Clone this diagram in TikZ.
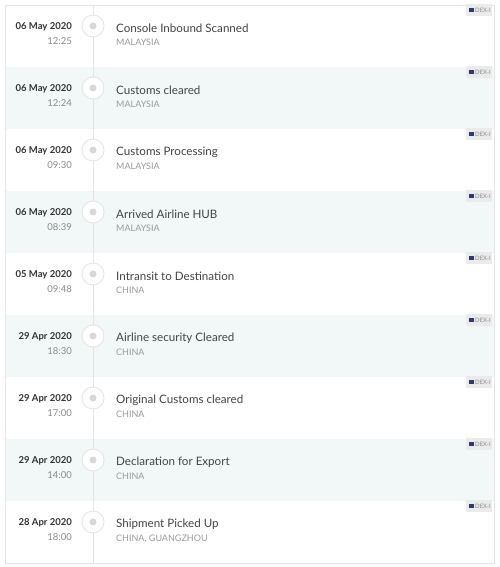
\documentclass[tikz,border=0pt]{standalone}
\usepackage{fontspec}
\setmainfont{Lato}
\definecolor{rowshade}{HTML}{F2F7F8}
\definecolor{bordergray}{HTML}{E2E4E6}
\definecolor{linegray}{HTML}{E3E3E3}
\definecolor{dotgray}{HTML}{D8D8D8}
\definecolor{datecol}{HTML}{333333}
\definecolor{timecol}{HTML}{8A8A8A}
\definecolor{titlecol}{HTML}{444444}
\definecolor{subcol}{HTML}{9A9A9A}
\definecolor{badgebg}{HTML}{EBEBEB}
\definecolor{badgeicon}{HTML}{2E3A6E}
\tikzset{
  datelbl/.style={anchor=east,inner sep=0pt,font=\fontsize{9.5}{10}\selectfont\bfseries,text=datecol},
  timelbl/.style={anchor=east,inner sep=0pt,font=\fontsize{9.5}{10}\selectfont,text=timecol},
  titlelbl/.style={anchor=west,inner sep=0pt,font=\fontsize{11.6}{12}\selectfont,text=titlecol},
  sublbl/.style={anchor=west,inner sep=0pt,font=\fontsize{9}{10}\selectfont,text=subcol},
  ring/.style={circle,draw=linegray,line width=0.8pt,fill=white,minimum size=22pt,inner sep=0pt},
  dot/.style={circle,fill=dotgray,minimum size=7pt,inner sep=0pt},
  badge/.style={fill=badgebg,draw=none,minimum width=26pt,minimum height=12pt,inner sep=0pt},
  badgeicon/.style={fill=badgeicon,minimum width=5.5pt,minimum height=4.5pt,inner sep=0pt},
  badgetxt/.style={anchor=west,inner sep=0pt,font=\fontsize{6}{7}\selectfont,text=timecol},
}
\begin{document}
\begin{tikzpicture}[x=1pt,y=-1pt]
\useasboundingbox (0,0) rectangle (500,567);
\fill[white] (0,0) rectangle (500,567);
% shaded rows
\foreach \i in {2,4,6,8}{
  \fill[rowshade] (5,{5+62*(\i-1)}) rectangle (494,{5+62*\i});
}
% outer frame
\draw[bordergray,line width=0.8pt] (5,5) rectangle (494,563);
% timeline
\coordinate (ltop) at (93,5);
\coordinate (lbot) at (93,563);
\draw[linegray,line width=0.8pt] (ltop) -- (lbot);
\foreach \i/\d/\t/\ti/\s in {
 1/06 May 2020/12:25/Console Inbound Scanned/MALAYSIA,
 2/06 May 2020/12:24/Customs cleared/MALAYSIA,
 3/06 May 2020/09:30/Customs Processing/MALAYSIA,
 4/06 May 2020/08:39/Arrived Airline HUB/MALAYSIA,
 5/05 May 2020/09:48/Intransit to Destination/CHINA,
 6/29 Apr 2020/18:30/Airline security Cleared/CHINA,
 7/29 Apr 2020/17:00/Original Customs cleared/CHINA,
 8/29 Apr 2020/14:00/Declaration for Export/CHINA,
 9/28 Apr 2020/18:00/Shipment Picked Up/{CHINA, GUANGZHOU}}{
  \pgfmathsetmacro\top{5+62*(\i-1)}
  \node[datelbl] (date\i) at (72,\top+22) {\d};
  \node[timelbl] (time\i) at (72,\top+36) {\t};
  \node[ring] (ring\i) at (93,\top+21) {};
  \node[dot] (dot\i) at (ring\i.center) {};
  \node[titlelbl] (title\i) at (116,\top+23.5) {\ti};
  \node[sublbl] (sub\i) at (116,\top+37.5) {\s};
  \node[badge] (badge\i) at (479,\top+5) {};
  \node[badgeicon] (icon\i) at (471.5,\top+5) {};
  \node[badgetxt] (btxt\i) at (475,\top+5.2) {DEX-I};
}
\end{tikzpicture}
\end{document}
